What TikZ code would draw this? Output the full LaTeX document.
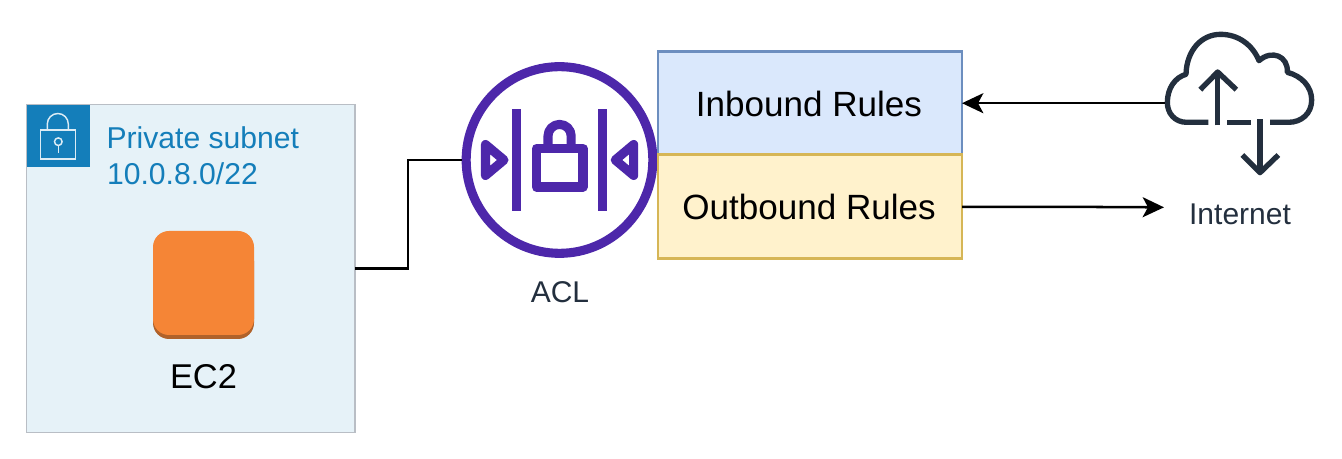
\documentclass[tikz,border=0pt]{standalone}
\usepackage{fontspec}
\setmainfont{Liberation Sans}
\usetikzlibrary{arrows.meta}
\definecolor{subnetblue}{HTML}{147EBA}
\definecolor{subnetfill}{HTML}{E6F2F8}
\definecolor{subnetedge}{HTML}{B9BEC5}
\definecolor{ecorange}{HTML}{F58536}
\definecolor{ecshade}{HTML}{B0622A}
\definecolor{aclpurple}{HTML}{4D27AA}
\definecolor{inkdark}{HTML}{232F3E}
\definecolor{inblue}{HTML}{DAE8FC}
\definecolor{inedge}{HTML}{6C8EBF}
\definecolor{outyellow}{HTML}{FFF2CC}
\definecolor{outedge}{HTML}{D6B656}
\tikzset{
  pxtext/.style={font=\fontsize{#1}{#1}\selectfont, inner sep=0pt, outer sep=0pt},
  rulebox/.style={rectangle, line width=2.2pt, minimum width=228pt, minimum height=78pt, inner sep=0pt, outer sep=0pt},
  wire/.style={line width=1.9pt, draw=black},
  wiretip/.style={wire, -{Stealth[length=16pt, width=15pt, inset=4pt]}},
  aclstroke/.style={draw=aclpurple, line width=6.8pt, line join=round, fill=none},
  lockline/.style={draw=white!85!subnetblue, line width=1.1pt},
  cloudstroke/.style={draw=inkdark, line width=4pt, line join=round, line cap=butt},
}
\begin{document}
\begin{tikzpicture}[x=.75pt, y=-.75pt]
\useasboundingbox (0,0) rectangle (1342,459);

% subnet
\node[rectangle, draw=subnetedge, fill=subnetfill, line width=.9pt, minimum width=246.4pt, minimum height=246pt, inner sep=0pt, outer sep=0pt] (subnet) at (190.75,268.5) {};
\fill[subnetblue] (27,105) rectangle (90,167.5);
\draw[lockline] (40.7,130) rectangle (75.7,159);
\draw[lockline] (47.3,130) -- (47.3,124) arc[start angle=180, end angle=360, radius=10.5] -- (68.3,130);
\draw[lockline] (58.3,141.7) circle[radius=3.8];
\draw[lockline] (58.3,145.5) -- (58.3,153.5);
\node[pxtext=22.6, text=subnetblue, anchor=base west] (subnetname) at (106.5,149) {Private subnet};
\node[pxtext=22.6, text=subnetblue, anchor=base west] (subnetcidr) at (107,184.8) {10.0.8.0/22};

% EC2
\fill[ecshade, rounded corners=12pt] (153,245) rectangle (254,339);
\fill[ecorange, rounded corners=12pt] (153,231) rectangle (254,335);
\node[pxtext=25.8, text=black, anchor=base] (ec2) at (203.5,388.7) {EC2};

% ACL
\node[circle, draw=aclpurple, line width=6.8pt, fill=white, minimum size=140pt, inner sep=0pt] (acl) at (559.5,160) {};
\fill[aclpurple] (512,109) rectangle (521.3,211);
\fill[aclpurple] (598,109) rectangle (607.3,211);
\draw[aclstroke] (536.5,148.5) rectangle (583,187);
\draw[aclstroke] (548,148.5) -- (548,136) arc[start angle=180, end angle=360, radius=11.6] -- (571.2,148.5);
\draw[aclstroke] (485.5,144.5) -- (504,160) -- (485.5,175.5) -- cycle;
\draw[aclstroke] (633.7,144.5) -- (615.2,160) -- (633.7,175.5) -- cycle;
\node[pxtext=22.5, text=inkdark, anchor=base] (acllabel) at (560,303) {ACL};

% rule boxes
\node[rulebox, draw=inedge, fill=inblue] (inbound) at (810,103.2) {};
\node[rulebox, draw=outedge, fill=outyellow] (outbound) at (810,206.8) {};
\node[pxtext=26.3, text=black, anchor=base] (inboundtext) at (809,117) {Inbound Rules};
\node[pxtext=26.3, text=black, anchor=base] (outboundtext) at (809,220) {Outbound Rules};

% internet icon
\begin{scope}[shift={(1130,20)}, x=.25pt, y=-.25pt]
  \draw[cloudstroke] (235,307) -- (170,307) .. controls (135,307) and (112,280) .. (112,248)
     .. controls (112,205) and (135,172) .. (168,163)
     .. controls (170,90) and (215,43) .. (272,43)
     .. controls (325,43) and (368,75) .. (387,122)
     .. controls (425,88) and (475,108) .. (472,157)
     .. controls (515,168) and (545,200) .. (545,240)
     .. controls (545,280) and (515,307) .. (475,307) -- (420,307);
  \draw[cloudstroke] (292,307) -- (362,307);
  \draw[cloudstroke] (263,316) -- (263,158);
  \draw[cloudstroke] (211,209) -- (263,156) -- (319,209);
  \draw[cloudstroke] (390,298) -- (390,456);
  \draw[cloudstroke] (337,405) -- (390,458) -- (445,405);
  \coordinate (cloud) at (104,249.6);
  \coordinate (cloudin) at (102,562);
\end{scope}
\node[pxtext=22.5, text=inkdark, anchor=base] (internet) at (1240,224.5) {Internet};

% connectors
\coordinate (bend) at (408,268.5);
\draw[wire] (subnet.east) -- (bend) |- (acl.west);
\draw[wiretip] (cloud) -- (inbound.east);
\draw[wiretip] (outbound.east) -- (1060,206.8) -- (cloudin);
\end{tikzpicture}
\end{document}
